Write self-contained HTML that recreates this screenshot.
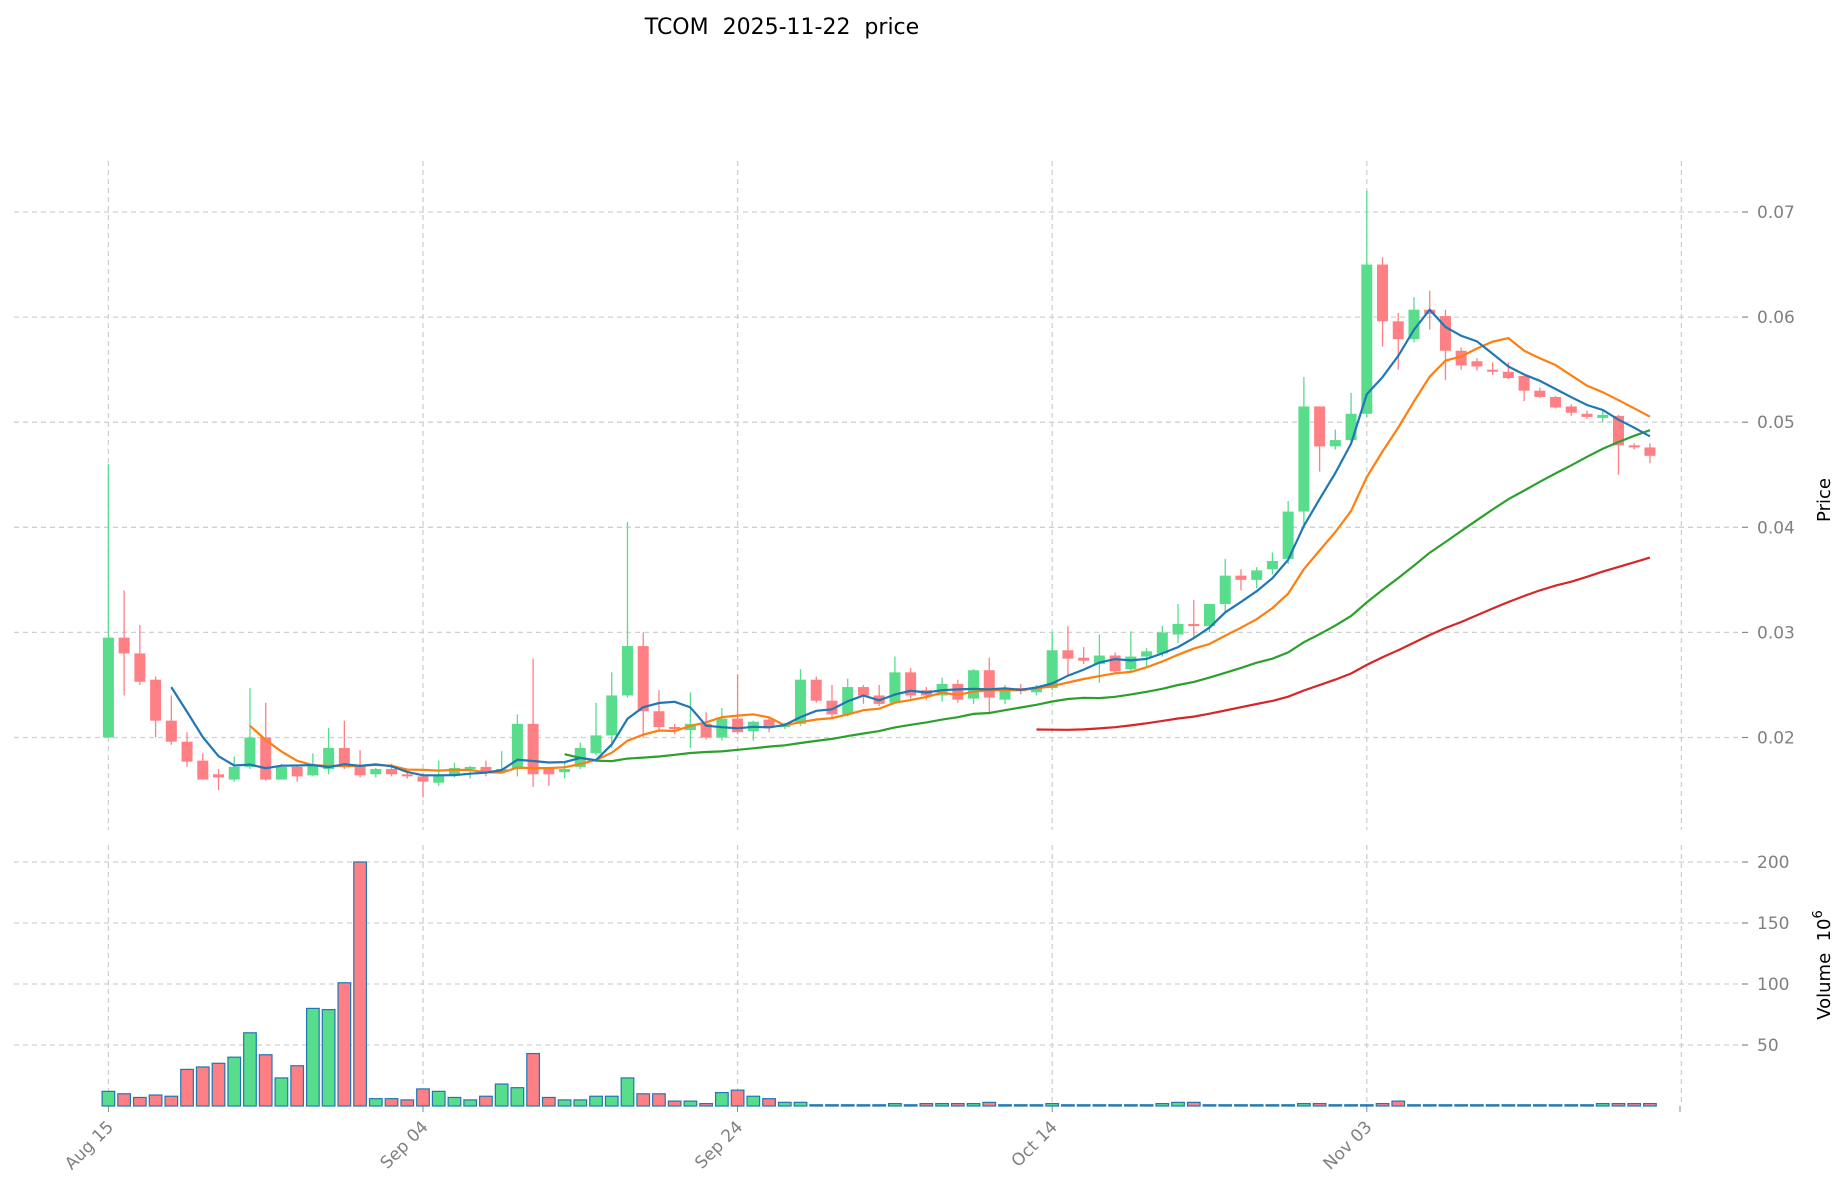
<!DOCTYPE html>
<html><head><meta charset="utf-8"><style>
html,body{margin:0;padding:0;background:#fff;}
svg{display:block;font-family:"DejaVu Sans","Liberation Sans",sans-serif;}
</style></head><body>
<svg id="c" width="1847" height="1202" xmlns="http://www.w3.org/2000/svg">
<text x="782" y="34" font-size="22" text-anchor="middle" fill="#000" style="white-space:pre" xml:space="preserve">TCOM  2025-11-22  price</text>
<g id="g"></g>
</svg>
<script>
var D=[[.020,.046,.020,.0295],[.0295,.034,.024,.028],[.028,.0307,.025,.0253],[.0255,.0258,.020,.0216],[.0216,.024,.0193,.0196],[.0196,.0205,.0172,.0177],[.0178,.0185,.016,.016],[.0165,.017,.015,.0162],[.016,.0182,.0158,.0172],[.0172,.0247,.017,.020],
[.020,.0233,.0159,.016],[.016,.0175,.016,.0172],[.0172,.0174,.0158,.0163],[.0164,.0185,.0163,.0174],[.017,.0209,.0165,.019],[.019,.0216,.017,.0174],[.0173,.0188,.0162,.0164],[.0165,.0171,.0162,.017],[.017,.0175,.0163,.0165],[.0165,.0168,.0161,.0163],
[.0163,.0166,.0143,.0158],[.0157,.0178,.0154,.0164],[.0164,.0176,.0162,.0171],[.017,.0173,.0161,.0172],[.0172,.0178,.0163,.0168],[.0167,.0187,.0167,.017],[.017,.0222,.0163,.0213],[.0213,.0275,.0153,.0165],[.017,.0171,.0154,.0165],[.0167,.0177,.0161,.017],
[.0172,.0195,.017,.019],[.0185,.0233,.0183,.0202],[.0202,.0262,.019,.024],[.024,.0405,.0238,.0287],[.0287,.03,.02,.0225],[.0225,.0245,.0207,.021],[.021,.0213,.0203,.0208],[.0207,.0243,.019,.0213],[.0213,.0224,.0198,.02],[.02,.0228,.0197,.0218],
[.0218,.026,.0203,.0205],[.0206,.0216,.0197,.0215],[.0217,.022,.0205,.021],[.021,.0214,.0208,.0212],[.0213,.0265,.0211,.0255],[.0255,.0258,.0233,.0235],[.0235,.025,.0218,.0222],[.0222,.0256,.022,.0248],[.0248,.025,.0232,.024],[.024,.025,.023,.0232],
[.0233,.0277,.0233,.0262],[.0262,.0266,.0237,.024],[.0245,.0248,.0236,.024],[.024,.0257,.0234,.0251],[.0251,.0255,.0233,.0236],[.0237,.0265,.0232,.0264],[.0264,.0276,.0222,.0238],[.0236,.025,.0232,.0245],[.0247,.0251,.0241,.0244],[.0243,.025,.024,.0247],
[.0247,.03,.0245,.0283],[.0283,.0306,.0259,.0275],[.0275,.0286,.027,.0274],[.027,.0298,.0252,.0278],[.0278,.0281,.0262,.0263],[.0265,.0301,.0262,.0277],[.0277,.0285,.0267,.0282],[.028,.0306,.0277,.03],[.0298,.0327,.029,.0308],[.0308,.0331,.0296,.0306],
[.0306,.0327,.03,.0327],[.0327,.037,.032,.0354],[.0354,.036,.034,.035],[.035,.0362,.0342,.0359],[.036,.0376,.0355,.0368],[.037,.0425,.0365,.0415],[.0415,.0543,.0402,.0515],[.0515,.0515,.0453,.0477],[.0477,.0493,.0474,.0483],[.0483,.0528,.048,.0508],
[.0508,.072,.0505,.065],[.065,.0657,.0572,.0596],[.0596,.0604,.055,.0579],[.0579,.0619,.0576,.0607],[.0607,.0625,.0588,.0603],[.0601,.0607,.054,.0568],[.0568,.0571,.055,.0554],[.0558,.0561,.0549,.0553],[.055,.0557,.0545,.0548],[.0548,.0557,.0541,.0542],
[.0544,.0544,.052,.053],[.053,.0533,.0523,.0524],[.0524,.0525,.0513,.0514],[.0515,.0517,.0506,.0509],[.0508,.0511,.0503,.0505],[.0505,.0512,.05,.0506],[.0506,.0507,.045,.0478],[.0478,.048,.0474,.0476],[.0476,.048,.0461,.0468]];
var V=[12,10,7,9,8,30,32,35,40,60,42,23,33,80,79,101,200,6,6,5,14,12,7,5,8,18,15,43,7,5,5,8,8,23,10,10,4,4,2,11,13,8,6,3,3,1,1,1,1,1,2,1,2,2,2,2,3,1,1,1,2,1,1,1,1,1,1,2,3,3,1,1,1,1,1,1,2,2,1,1,1,2,4,1,1,1,1,1,1,1,1,1,1,1,1,2,2,2,2,3];
var up="#58dd8c",dn="#fe8085";
function X(i){return 108.4+i*15.73}
function Y(p){return 737.5-(p-0.02)*10510}
function VY(v){return 1106-v*1.22}
var s="";
function ln(x1,y1,x2,y2,st){s+='<line x1="'+x1+'" y1="'+y1+'" x2="'+x2+'" y2="'+y2+'" '+st+'/>';}
var gd='stroke="#d0d0d0" stroke-width="1.3" stroke-dasharray="5,4"';
for(var k=2;k<=7;k++){var y=Y(k/100);ln(14,y,1742,y,gd);ln(1742,y,1748,y,'stroke="#888" stroke-width="1.2"');s+='<text x="1757" y="'+(y+6)+'" font-size="17" fill="#808080">0.0'+k+'</text>';}
[50,100,150,200].forEach(function(v){var y=VY(v);ln(14,y,1742,y,gd);ln(1742,y,1748,y,'stroke="#888" stroke-width="1.2"');s+='<text x="1757" y="'+(y+6)+'" font-size="17" fill="#808080">'+v+'</text>';});
var lab=["Aug 15","Sep 04","Sep 24","Oct 14","Nov 03"];
for(var j=0;j<6;j++){var x=108.4+j*314.6;ln(x,161,x,830,gd);ln(x,845,x,1106,gd);
 if(j<5){ln(x,1106,x,1112,'stroke="#888"');s+='<text transform="translate('+(x+6)+',1128) rotate(-45)" text-anchor="end" font-size="17" fill="#808080">'+lab[j]+'</text>';}}
ln(1680,1106,1680,1112,'stroke="#888"');
for(var i=0;i<D.length;i++){var d=D[i],c=d[3]>=d[0]?up:dn,y=VY(V[i]);
 s+='<rect x="'+(X(i)-6.3)+'" y="'+y+'" width="12.6" height="'+(1106-y)+'" fill="'+c+'" stroke="#1f77b4" stroke-width="1.2"/>';}
for(var i=0;i<D.length;i++){var d=D[i],c=d[3]>=d[0]?up:dn,x=X(i);
 ln(x,Y(d[1]),x,Y(d[2]),'stroke="'+c+'" stroke-width="1.3"');
 var t=Y(Math.max(d[0],d[3])),b=Y(Math.min(d[0],d[3]));if(b-t<2){t-=1;b+=1;}
 s+='<rect x="'+(x-5.5)+'" y="'+t+'" width="11" height="'+(b-t)+'" fill="'+c+'"/>';}
function ma(n,col){var pts=[];for(var i=n-1;i<D.length;i++){var sm=0;for(var k=0;k<n;k++)sm+=D[i-k][3];pts.push(X(i).toFixed(1)+','+Y(sm/n).toFixed(1));}
 s+='<polyline points="'+pts.join(' ')+'" fill="none" stroke="'+col+'" stroke-width="2.2"/>';}
ma(60,"#d62728");ma(30,"#2ca02c");ma(10,"#ff7f0e");ma(5,"#1f77b4");
s+='<text transform="translate(1830,500) rotate(-90)" text-anchor="middle" font-size="18" fill="#000">Price</text>';
s+='<text transform="translate(1830,965) rotate(-90)" text-anchor="middle" font-size="18" fill="#000" xml:space="preserve" style="white-space:pre">Volume  10<tspan dy="-8" font-size="13">6</tspan></text>';
document.getElementById("g").innerHTML=s;
</script>
</body></html>
